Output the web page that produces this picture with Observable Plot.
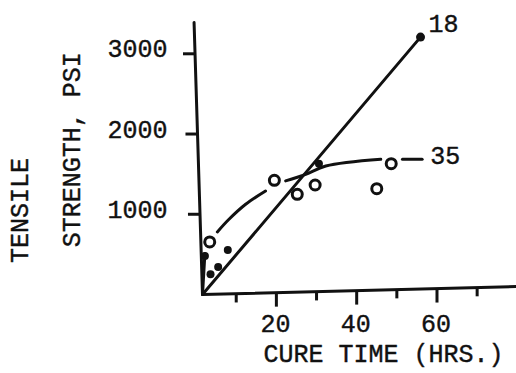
<!DOCTYPE html>
<html>
<head>
<meta charset="utf-8">
<script src="https://cdn.jsdelivr.net/npm/d3@7"></script>
<script src="https://cdn.jsdelivr.net/npm/@observablehq/plot@0.6"></script>
<style>
  html, body { margin: 0; padding: 0; background: #fff; }
  #chart svg { display: block; background: #fff; }
</style>
</head>
<body>
<div id="chart"></div>
<script>
// ---- data ----
// series "18": filled dots
const times18 = [2.2, 3.6, 5.5, 7.9, 30.6];
const psi18   = [480, 253, 343, 555, 1630];
const end18Time = [55.9];
const end18Psi  = [3208];
// straight fit line for "18"
const fit18Time = [1.6, 55.9];
const fit18Psi  = [0, 3208];

// series "35": open circles
const times35 = [3.4, 19.5, 25.2, 29.65, 45.0, 48.6];
const psi35   = [655, 1423, 1249, 1365, 1319, 1630];
// hand-drawn curve for "35" (broken where it meets the circles)
const curve35Seg  = [0, 0, 1, 1, 1, 1, 2, 2, 2, 2, 3, 3];
const curve35Time = [1.6, 2.2, 5.3, 8.2, 12.35, 17.3, 22.3, 27.3, 32.3, 46.0, 51.4, 56.3];
const curve35Psi  = [0, 510, 780, 938, 1125, 1290, 1416, 1498, 1601, 1685, 1685, 1685];

// curve labels
const label18 = "18";
const label35 = "35";

// axes
const xMajorTicks = [20, 40, 60];
const xMinorTicks = [10, 30, 50, 70];
const yTicks = [1000, 2000, 3000];
const xTitle = "CURE TIME (HRS.)";
const yTitle1 = "TENSILE";
const yTitle2 = "STRENGTH, PSI";

// domain extents of the drawn axes
const xMin = 1.6, xMax = 79.8;
const yMax = 3390;
const yAxisTopX = -0.5;      // y axis leans slightly left at its top
const xAxisRightY = 100;     // x axis rises slightly at its right end

// ---- build tables ----
const pts18 = times18.map((t, i) => ({t, p: psi18[i]}));
const end18 = end18Time.map((t, i) => ({t, p: end18Psi[i]}));
const pts35 = times35.map((t, i) => ({t, p: psi35[i]}));
const fit18 = fit18Time.map((t, i) => ({t, p: fit18Psi[i]}));
const curve35 = curve35Time.map((t, i) => ({t, p: curve35Psi[i], s: curve35Seg[i]}));

const yAxisLine = [{t: yAxisTopX, p: yMax}, {t: xMin, p: 0}];
const xAxisLine = [{t: xMin, p: 0}, {t: xMax, p: xAxisRightY}];
const axisXAt = v => xMin + (yAxisTopX - xMin) * v / yMax;
const axisYAt = t => xAxisRightY * (t - xMin) / (xMax - xMin);

const FONT = "Liberation Mono";
const FS = 25;
const INK = "#111";
const txt = {fontFamily: FONT, fontSize: FS, fill: INK, stroke: INK, strokeWidth: 0.4};

const lastCurve = curve35[curve35.length - 1];

const plot = Plot.plot({
  width: 516,
  height: 373,
  marginLeft: 202,
  marginRight: 0,
  marginTop: 22,
  marginBottom: 79,
  x: {domain: [xMin, xMax], axis: null},
  y: {domain: [0, yMax], axis: null},
  style: {background: "#fff", fontFamily: FONT},
  marks: [
    // axes lines
    Plot.line(yAxisLine, {x: "t", y: "p", stroke: INK, strokeWidth: 3, strokeLinecap: "round"}),
    Plot.line(xAxisLine, {x: "t", y: "p", stroke: INK, strokeWidth: 3, strokeLinecap: "round"}),
    // y ticks
    Plot.link(yTicks, {x1: d => axisXAt(d) - 3, x2: d => axisXAt(d), y1: d => d, y2: d => d, stroke: INK, strokeWidth: 3}),
    // x ticks
    Plot.link(xMajorTicks, {x1: d => d, x2: d => d, y1: d => axisYAt(d), y2: d => axisYAt(d) - 175, stroke: INK, strokeWidth: 3}),
    Plot.link(xMinorTicks, {x1: d => d, x2: d => d, y1: d => axisYAt(d), y2: d => axisYAt(d) - 110, stroke: INK, strokeWidth: 3}),
    // tick labels
    Plot.text(yTicks, {y: d => d, text: d => String(d), frameAnchor: "left", textAnchor: "end", dx: -35, dy: -4.5, ...txt}),
    Plot.text(xMajorTicks, {x: d => d, y: 0, text: d => String(d), dy: 29.5, dx: -1, ...txt}),
    // axis titles
    Plot.text([xTitle], {text: d => d, frameAnchor: "bottom", dx: 24, dy: 67, ...txt}),
    Plot.text([yTitle1], {text: d => d, frameAnchor: "left", rotate: -90, dx: -183, dy: 104.5, ...txt}),
    Plot.text([yTitle2], {text: d => d, frameAnchor: "left", rotate: -90, dx: -131, dy: 88.7, ...txt}),
    // fit line 18
    Plot.line(fit18, {x: "t", y: "p", stroke: INK, strokeWidth: 3, strokeLinecap: "round"}),
    // curve 35
    Plot.line(curve35, {x: "t", y: "p", z: "s", curve: "catmull-rom", stroke: INK, strokeWidth: 3, strokeLinecap: "round"}),
    // points
    Plot.dot(pts18, {x: "t", y: "p", r: 4, fill: INK, stroke: "none"}),
    Plot.dot(end18, {x: "t", y: "p", r: 4.5, fill: INK, stroke: "none"}),
    Plot.dot(pts35, {x: "t", y: "p", r: 5, fill: "#fff", stroke: INK, strokeWidth: 3}),
    // curve labels
    Plot.text(end18, {x: "t", y: "p", text: () => label18, textAnchor: "start", dx: 8, dy: -13.5, ...txt}),
    Plot.text([lastCurve], {x: "t", y: "p", text: () => label35, textAnchor: "start", dx: 8, dy: -3, ...txt})
  ]
});
document.getElementById("chart").appendChild(plot);
</script>
</body>
</html>
